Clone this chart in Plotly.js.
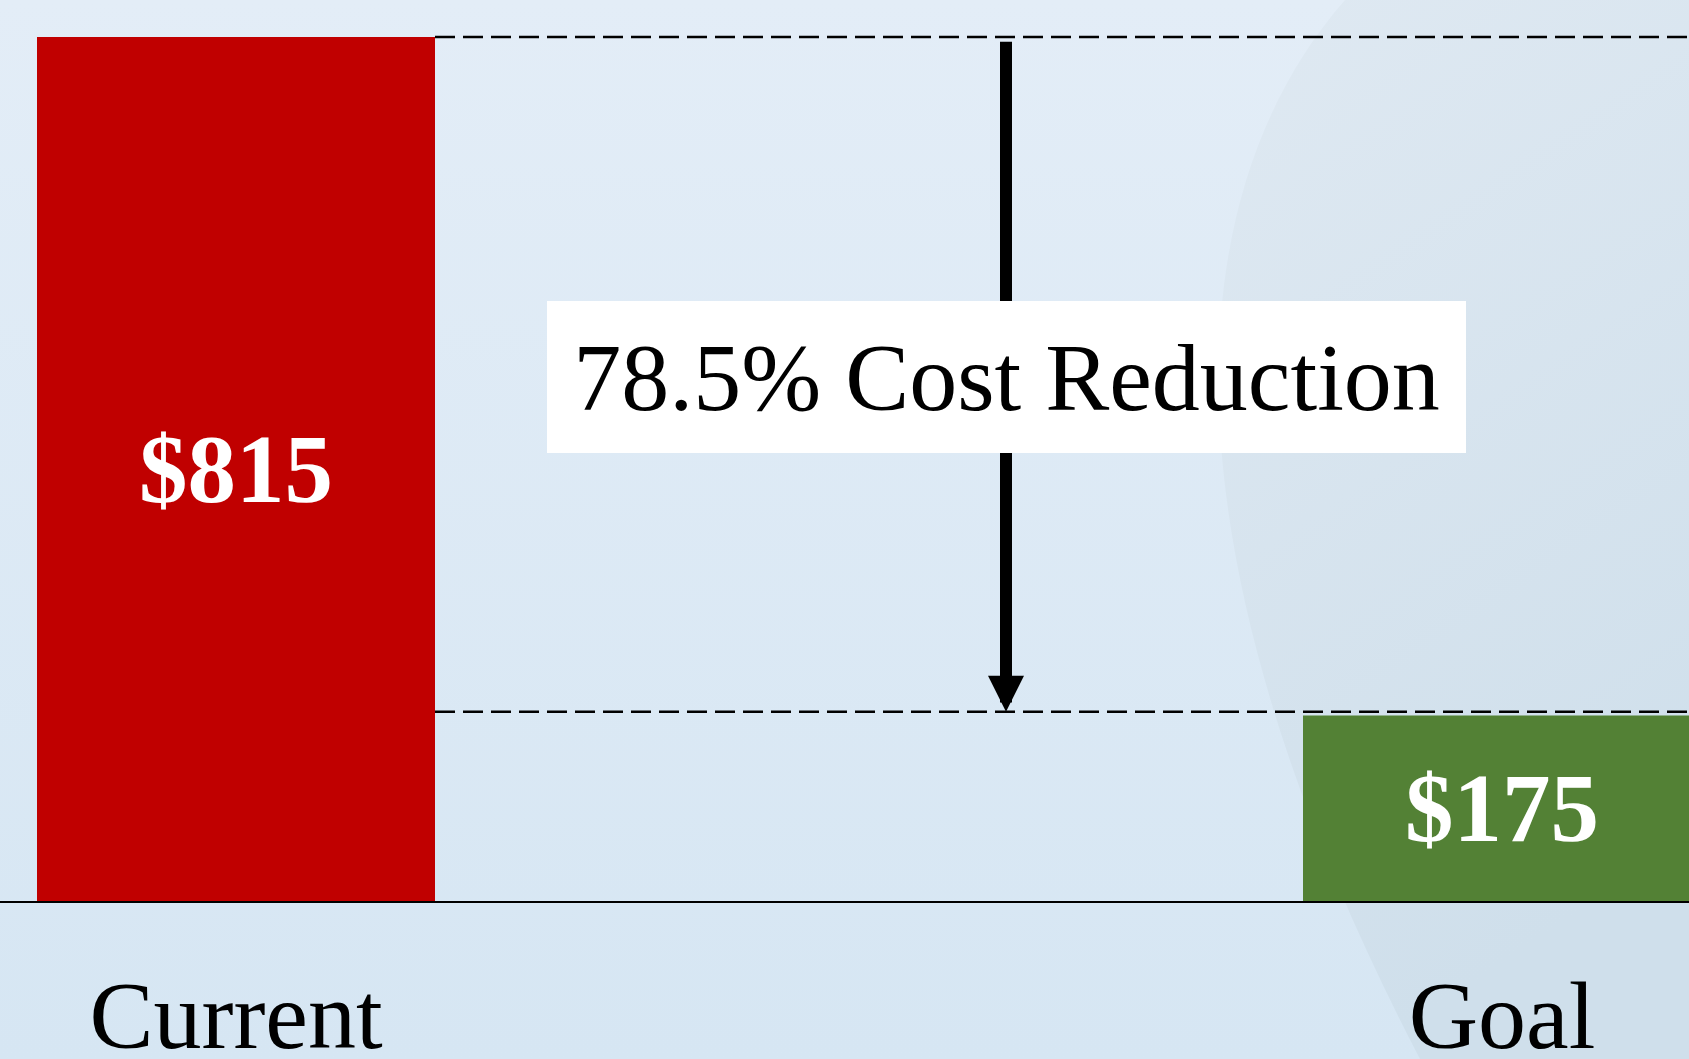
<!DOCTYPE html>
<html>
<head>
<meta charset="utf-8">
<script src="https://cdn.plot.ly/plotly-3.0.1.min.js"></script>
<style>
  html, body { margin: 0; padding: 0; background: #DCE8F4; }
  #chart { width: 1689px; height: 1059px; }
</style>
</head>
<body>
<div id="chart"></div>
<script>
// ---- data ----
const categories = ['Current', 'Goal'];
const costValues = [815, 175];
const barColors = ['#C00000', '#538135'];
const reductionLabel = '78.5% Cost Reduction';

// ---- layout helpers (positions / styles only) ----
const W = 1689, H = 1059;
const marginB = 158;
const plotH = H - marginB;
const pxPerUnitX = 1266;
const xStart = -236 / pxPerUnitX;
const xRange = [xStart, xStart + W / pxPerUnitX];
const barWidth = 398 / pxPerUnitX;
const yTopPx = 37;
const pxPerUnitY = (plotH - yTopPx) / costValues[0];
const yRange = [0, plotH / pxPerUnitY];
const arrowX = (1006 - 236) / pxPerUnitX;
const goalLine = costValues[1] + 3.5;
const serif = 'Liberation Serif, Times New Roman, serif';

const bgSvg =
  "<svg xmlns='http://www.w3.org/2000/svg' width='1689' height='1059' viewBox='0 0 1689 1059' preserveAspectRatio='none'>" +
  "<defs>" +
  "<linearGradient id='g' x1='0' y1='0' x2='0' y2='1'><stop offset='0' stop-color='#E3EDF7'/><stop offset='1' stop-color='#D6E6F3'/></linearGradient>" +
  "<linearGradient id='h' x1='0' y1='0' x2='0.3' y2='1'><stop offset='0' stop-color='#DFE9F2'/><stop offset='1' stop-color='#CFDFEB'/></linearGradient>" +
  "</defs>" +
  "<rect width='1689' height='1059' fill='url(#g)'/>" +
  "<path d='M1345,0 C1170,200 1160,560 1420,1059 L1689,1059 L1689,0 Z' fill='url(#h)'/>" +
  "</svg>";

const trace = {
  type: 'bar',
  x: categories,
  y: costValues,
  width: barWidth,
  marker: { color: barColors, line: { width: 0 } },
  texttemplate: '$%{y}',
  textposition: 'inside',
  insidetextanchor: 'middle',
  textangle: 0,
  textfont: { family: serif, size: 97, color: '#FFFFFF', weight: 'bold' },
  hoverinfo: 'skip'
};

const layout = {
  width: W,
  height: H,
  margin: { l: 0, r: 0, t: 0, b: marginB, pad: 0 },
  paper_bgcolor: '#DCE8F4',
  plot_bgcolor: 'rgba(0,0,0,0)',
  showlegend: false,
  font: { family: serif, color: '#000000' },
  xaxis: {
    type: 'category',
    range: xRange,
    showgrid: false,
    zeroline: false,
    showline: true,
    linecolor: '#000000',
    linewidth: 2,
    ticks: '',
    ticklabelstandoff: 30,
    tickfont: { family: serif, size: 96, color: '#000000' },
    automargin: false,
    fixedrange: true
  },
  yaxis: {
    range: yRange,
    showgrid: false,
    zeroline: false,
    showline: false,
    showticklabels: false,
    ticks: '',
    automargin: false,
    fixedrange: true
  },
  images: [{
    source: 'data:image/svg+xml;charset=utf-8,' + encodeURIComponent(bgSvg),
    xref: 'paper', yref: 'paper',
    x: 0, y: 1,
    sizex: 1, sizey: H / plotH,
    xanchor: 'left', yanchor: 'top',
    sizing: 'stretch',
    layer: 'below'
  }],
  shapes: [
    {
      type: 'line', xref: 'x', yref: 'y',
      x0: barWidth / 2, x1: xRange[1],
      y0: costValues[0], y1: costValues[0],
      line: { color: '#000000', width: 2.5, dash: '20px,8px' }
    },
    {
      type: 'line', xref: 'x', yref: 'y',
      x0: barWidth / 2, x1: xRange[1],
      y0: goalLine, y1: goalLine,
      line: { color: '#000000', width: 2.5, dash: '20px,8px' }
    }
  ],
  annotations: [
    {
      xref: 'x', yref: 'y', axref: 'x', ayref: 'y',
      x: arrowX, y: goalLine,
      ax: arrowX, ay: costValues[0] - 3,
      text: '',
      showarrow: true,
      arrowhead: 2,
      arrowsize: 0.6,
      arrowwidth: 12,
      arrowcolor: '#000000',
      standoff: 0,
      startstandoff: 0
    },
    {
      xref: 'x', yref: 'y',
      x: arrowX, y: (plotH - 377) / pxPerUnitY,
      text: reductionLabel,
      showarrow: false,
      bgcolor: '#FFFFFF',
      borderpad: 0,
      borderwidth: 0,
      width: 919,
      height: 152,
      align: 'center',
      valign: 'middle',
      xanchor: 'center',
      yanchor: 'middle',
      font: { family: serif, size: 96, color: '#000000' }
    }
  ]
};

Plotly.newPlot('chart', [trace], layout, { displayModeBar: false, staticPlot: true });
</script>
</body>
</html>
